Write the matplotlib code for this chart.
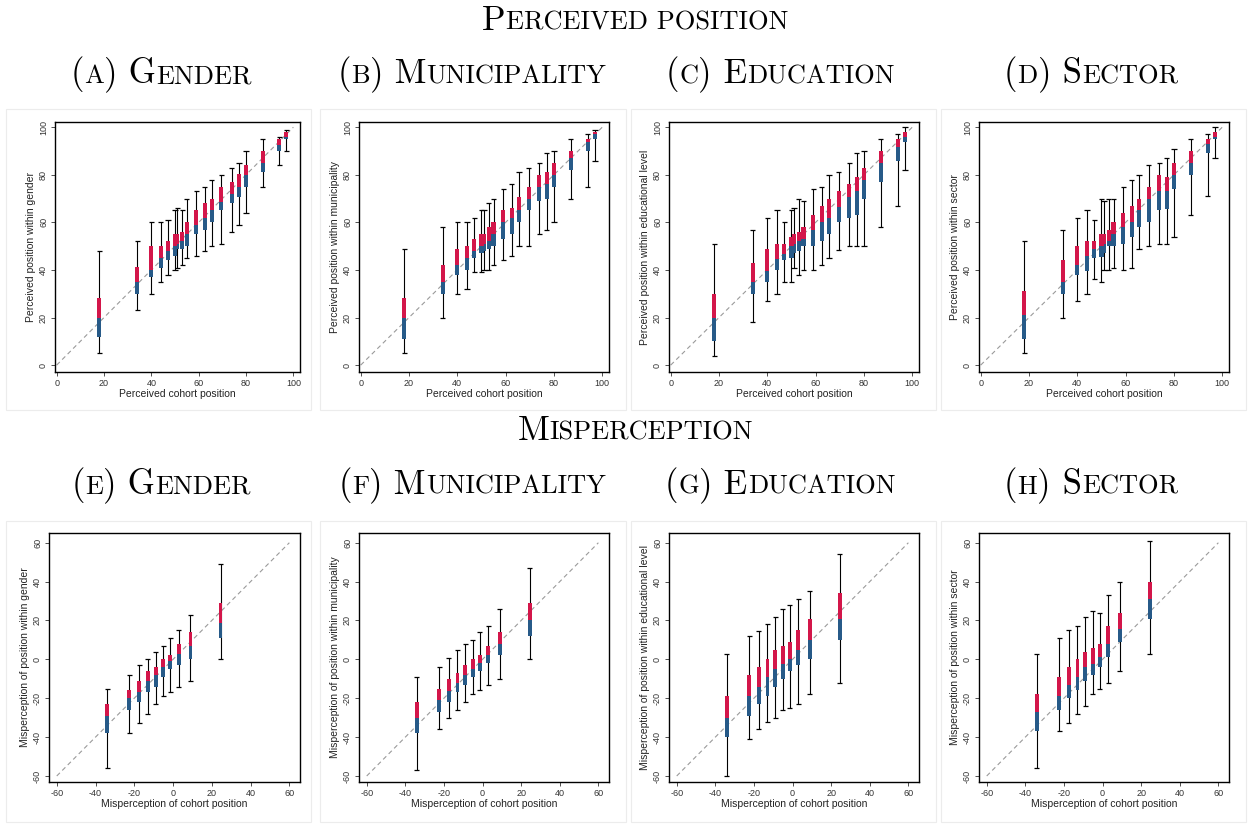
import matplotlib
matplotlib.use("Agg")
import matplotlib.pyplot as plt
from matplotlib.offsetbox import TextArea, HPacker, AnchoredOffsetbox
from matplotlib.patches import Rectangle

# ---------------- data: perceived position (panels A-D) ----------------
pos_x = [18, 34, 40, 44, 47, 50, 51, 53, 55, 59, 62.5, 65.5, 69.5, 74, 77, 80, 87, 94, 97]

a_max = [48, 52, 60, 60, 61, 65, 66, 65, 70, 73, 75, 78, 80, 83, 85, 90, 95, 96, 99]
a_q3  = [28, 41.4, 50, 50, 52, 55, 55, 56, 60, 65, 68, 70, 75, 77, 80.4, 84, 90, 95, 98]
a_med = [20, 35, 40, 45, 48, 50, 51, 52, 55, 59, 62, 65, 68.6, 72, 75, 80, 85, 92.6, 96]
a_q1  = [12, 30, 37, 41, 44, 46, 49, 49, 50, 55, 57, 60, 65, 68, 70.5, 75, 81, 90, 95]
a_min = [5, 23, 30, 35, 38, 40, 41, 42, 45, 46, 48, 50, 51, 56, 59, 64, 75, 84, 90]

b_max = [49, 58, 60, 60, 62, 65, 65, 68, 70, 74, 76, 81, 83, 85, 89, 90, 95, 97, 99]
b_q3  = [28, 42, 49, 50, 53, 55, 55, 58, 60, 65, 66, 70.6, 75, 80, 81, 85, 90, 95, 98]
b_med = [20, 35, 42, 45, 48, 50, 51, 52, 55, 60, 62, 65, 70, 75, 76, 80, 87, 94, 97]
b_q1  = [11, 30, 38, 40, 45, 47, 48, 49, 50, 53, 55, 60, 65, 69, 70, 75, 82, 90, 95]
b_min = [5, 20, 30, 32, 39, 39, 40, 40, 42, 44, 46, 50, 50, 55, 57, 60, 70, 75, 86]

c_max = [51, 57, 62, 65, 60, 65, 66, 70, 69, 74, 75, 80, 81, 85, 89, 90, 95, 97, 100]
c_q3  = [30, 43, 49, 51, 51, 54, 55, 56, 58, 63, 67, 70, 73, 76, 79, 83, 90, 95, 98]
c_med = [20, 35, 39.5, 44.5, 46.5, 50, 51, 52, 53, 57, 60, 62, 66.5, 70.6, 73, 78, 85, 91.7, 96]
c_q1  = [10, 30, 35, 40, 44, 45, 47, 48, 50, 50, 52, 55, 60, 62, 63, 70, 77, 86, 94]
c_min = [4, 18, 27, 30, 35, 35, 41, 38, 40, 40, 42, 45, 48.5, 50, 50, 50, 58, 67, 82]

d_max = [52, 57, 62, 65, 61, 70, 69, 70, 70, 75, 78, 80, 84, 85, 87, 91, 95, 97, 100]
d_q3  = [31, 44, 50, 52, 52, 55, 55, 57, 60, 64, 67, 70, 75, 80, 79, 85, 90, 95, 98]
d_med = [21, 35, 42, 46, 48.7, 50, 51, 52, 55, 58, 60, 65, 70, 73, 73, 80, 85, 93, 96]
d_q1  = [11, 30, 38, 39.7, 45, 45.6, 47, 50, 50, 51, 54, 58, 60, 65, 65.5, 74, 80, 89, 95]
d_min = [5, 20, 27, 30, 36, 35, 40, 40, 41, 40, 41, 49, 50, 51, 51, 54, 63, 71, 87]

# ---------------- data: misperception (panels E-H) ----------------
mis_x = [-34, -22.5, -17.5, -13, -9, -5, -1.5, 3, 9, 24.5]

e_max = [-15, -8, -3, 0, 4, 7, 11, 15, 23, 49]
e_q3  = [-23, -15.8, -11, -6, -4, 0, 2, 8, 14, 29]
e_med = [-29, -20, -16.6, -11, -8.2, -4, -1, 3, 7, 18.5]
e_q1  = [-38, -26, -22, -17, -14, -9, -5, -3, 0, 11]
e_min = [-56, -38, -33, -28, -23, -19, -17, -14, -11, 0]

f_max = [-9, -4, 0.5, 5, 8, 10, 14, 17, 26, 47]
f_q3  = [-22, -15, -10, -7, -3, 0, 2, 7, 14, 29]
f_med = [-30, -21, -16.3, -12, -8, -5, -2, 2, 8, 20]
f_q1  = [-38, -27, -22, -17, -13, -9, -6, -2, 2, 12]
f_min = [-57, -36, -30, -26, -22, -18, -16, -13, -10, 0]

g_max = [3, 12, 14.5, 18, 22, 26, 28, 31, 35, 54]
g_q3  = [-19, -8, -4, 0, 5, 7, 9, 15, 21, 34]
g_med = [-30, -19, -14, -9, -5, -2.5, 0, 5, 10, 21]
g_q1  = [-40, -29, -23, -19, -14, -10, -6, -3, 0, 10]
g_min = [-60, -41, -36, -32, -30, -26, -25, -23, -18, -12]

h_max = [3, 11, 15, 17, 22, 25, 24, 33, 40, 61]
h_q3  = [-18, -9, -4, 0, 4, 6, 8, 17, 24, 40]
h_med = [-27, -19, -13, -9, -4, -2.5, 1, 8, 15.6, 31]
h_q1  = [-37, -26, -20, -16, -11, -8, -4, 1, 9, 21]
h_min = [-56, -37, -33, -28, -24, -18, -15, -12, -6, 3]

pos_ticks = [0, 20, 40, 60, 80, 100]
mis_ticks = [-60, -40, -20, 0, 20, 40, 60]

pos_ylabels = ["Perceived position within gender",
               "Perceived position within municipality",
               "Perceived position within educational level",
               "Perceived position within sector"]
mis_ylabels = ["Misperception of position within gender",
               "Misperception of position within municipality",
               "Misperception of position within educational level",
               "Misperception of position within sector"]
pos_xlabel = "Perceived cohort position"
mis_xlabel = "Misperception of cohort position"

# subtitle pieces: (letter, first capital, rest in small caps)
pos_titles = [("A", "G", "ENDER"), ("B", "M", "UNICIPALITY"), ("C", "E", "DUCATION"), ("D", "S", "ECTOR")]
mis_titles = [("E", "G", "ENDER"), ("F", "M", "UNICIPALITY"), ("G", "E", "DUCATION"), ("H", "S", "ECTOR")]

RED = "#D3164A"
BLUE = "#275A88"

W, H = 1248, 825
fig = plt.figure(figsize=(W / 100, H / 100), dpi=100)
fig.patch.set_facecolor("white")

SERIF = "cmr10"
SANS = ["Liberation Sans", "DejaVu Sans"]


def px_axes(l, t, r, b):
    return fig.add_axes([l / W, 1 - b / H, (r - l) / W, (b - t) / H])


def smallcaps(x, y, pieces):
    kids = []
    for txt, size in pieces:
        kids.append(TextArea(txt, textprops=dict(fontfamily=SERIF, fontsize=size, color="black")))
    pack = HPacker(children=kids, align="baseline", pad=0, sep=0)
    ab = AnchoredOffsetbox(loc="center", child=pack, pad=0, borderpad=0, frameon=False,
                           bbox_to_anchor=(x / W, 1 - y / H), bbox_transform=fig.transFigure)
    fig.add_artist(ab)


def draw_panel(ax, xs, mn, q1, md, q3, mx, lims, ticks, xlabel, ylabel, bw, capw):
    lo, hi = ticks[0], ticks[-1]
    ax.plot([lo, hi], [lo, hi], color="#9a9a9a", lw=0.8, dashes=(4, 3), zorder=1)
    ax.vlines(xs, mn, mx, color="black", lw=0.8, zorder=2)
    ax.hlines(mx, [x - capw for x in xs], [x + capw for x in xs], color="black", lw=0.9, zorder=2)
    ax.hlines(mn, [x - capw for x in xs], [x + capw for x in xs], color="black", lw=0.9, zorder=2)
    ax.bar(xs, [m - a for m, a in zip(md, q1)], bottom=q1, width=bw, color=BLUE, lw=0, zorder=3)
    ax.bar(xs, [b - m for b, m in zip(q3, md)], bottom=md, width=bw, color=RED, lw=0, zorder=3)
    ax.set_xlim(lims[0], lims[1])
    ax.set_ylim(lims[2], lims[3])
    ax.set_xticks(ticks)
    ax.set_yticks(ticks)
    ax.set_xticklabels([str(t) for t in ticks], fontfamily=SANS, fontsize=6.5, color="#333333")
    ax.set_yticklabels([str(t) for t in ticks], fontfamily=SANS, fontsize=6.5, color="#333333",
                       rotation=90, va="center")
    ax.tick_params(direction="out", length=3, width=0.6, color="#333333", pad=2)
    ax.set_xlabel(xlabel, fontfamily=SANS, fontsize=7.5, color="#222222", labelpad=1)
    ax.set_ylabel(ylabel, fontfamily=SANS, fontsize=7.5, color="#222222", labelpad=2)
    for s in ax.spines.values():
        s.set_linewidth(1.0)
        s.set_color("black")


# faint panel borders
col_edges = [(6, 311), (320, 626), (631, 936), (941, 1246)]
for (l, r) in col_edges:
    for (t, b) in [(109, 410), (521, 822)]:
        fig.add_artist(Rectangle((l / W, 1 - b / H), (r - l) / W, (b - t) / H,
                                 transform=fig.transFigure, fill=False, ec="#ececec", lw=0.8))

pos_axes_px = [(55, 122, 300, 372), (359, 122, 609, 372), (669, 122, 919, 372), (979, 122, 1229, 372)]
mis_axes_px = [(49, 533, 300, 782), (359, 533, 609, 782), (669, 533, 919, 782), (979, 533, 1229, 782)]

pos_data = [(a_min, a_q1, a_med, a_q3, a_max), (b_min, b_q1, b_med, b_q3, b_max),
            (c_min, c_q1, c_med, c_q3, c_max), (d_min, d_q1, d_med, d_q3, d_max)]
mis_data = [(e_min, e_q1, e_med, e_q3, e_max), (f_min, f_q1, f_med, f_q3, f_max),
            (g_min, g_q1, g_med, g_q3, g_max), (h_min, h_q1, h_med, h_q3, h_max)]

for i in range(4):
    ax = px_axes(*pos_axes_px[i])
    mn, q1, md, q3, mx = pos_data[i]
    draw_panel(ax, pos_x, mn, q1, md, q3, mx, (-0.7, 102.8, -2.9, 102.2), pos_ticks,
               pos_xlabel, pos_ylabels[i], 1.7, 1.1)
    ax = px_axes(*mis_axes_px[i])
    mn, q1, md, q3, mx = mis_data[i]
    draw_panel(ax, mis_x, mn, q1, md, q3, mx, (-64, 65.5, -63.1, 65), mis_ticks,
               mis_xlabel, mis_ylabels[i], 2.0, 1.3)

# titles
BIG, SMALL = 25, 19
smallcaps(635, 21, [("P", BIG), ("ERCEIVED POSITION", SMALL)])
smallcaps(635, 431, [("M", BIG), ("ISPERCEPTION", SMALL)])

col_centers = [161, 472, 780, 1091]
for i in range(4):
    for (titles, yc) in [(pos_titles, 74), (mis_titles, 485)]:
        letter, cap, rest = titles[i]
        smallcaps(col_centers[i], yc, [("(", BIG), (letter, SMALL), (")", BIG),
                                       (" " + cap, BIG), (rest, SMALL)])

fig.savefig("out.png", dpi=100, facecolor="white")
